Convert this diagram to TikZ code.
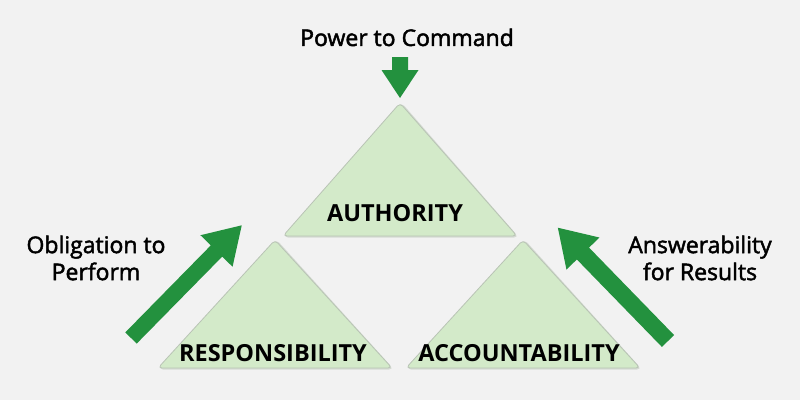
\documentclass[tikz,border=0pt]{standalone}
\usepackage{fontspec}
\setmainfont{Open Sans}
\newfontfamily\semib[FakeBold=2]{Open Sans}
\definecolor{bgc}{HTML}{F2F2F2}
\definecolor{tri}{HTML}{D3EAC9}
\definecolor{arr}{HTML}{23913E}
\definecolor{shd}{HTML}{B9C4B5}
\tikzset{
  tribox/.style={fill=tri, draw=shd, line width=0.8pt, rounded corners=4pt},
  trishadow/.style={fill=shd, opacity=0.5, rounded corners=5pt},
  arrowshape/.style={fill=arr, draw=none},
  trilabel/.style={font=\bfseries\fontsize{23.5}{28}\selectfont, text=black, anchor=base, inner sep=0pt},
  outlabel/.style={font=\semib\fontsize{23}{27}\selectfont, text=black, align=center, inner sep=0pt}
}
\begin{document}
\begin{tikzpicture}[x=1pt,y=1pt]
\fill[bgc] (0,0) rectangle (800,400);
\useasboundingbox (0,0) rectangle (800,400);
% triangles
\foreach \ax/\ay/\bl/\br/\by in {400/297/283/517/164, 275/160/158/392/32, 523/160/406/640/32}{
  \fill[trishadow] (\ax+1,\ay+1) -- (\br+2,\by-1.5) -- (\bl,\by-1.5) -- cycle;
  \draw[tribox] (\ax,\ay) -- (\br,\by) -- (\bl,\by) -- cycle;
}
\node[trilabel] (auth) at (395,179) {AUTHORITY};
\node[trilabel] (resp) at (273,39) {RESPONSIBILITY};
\node[trilabel] (acct) at (519,39) {ACCOUNTABILITY};
% top arrow
\coordinate (ttail) at (400,343);
\begin{scope}[shift={(ttail)}, rotate=-90]
\fill[arrowshape] (0,-8) -- (13,-8) -- (13,-18.5) -- (41,0) -- (13,18.5) -- (13,8) -- (0,8) -- cycle;
\end{scope}
% left arrow
\coordinate (ltail) at (131,62);
\begin{scope}[shift={(ltail)}, rotate=45.5]
\fill[arrowshape] (0,-8) -- (122,-8) -- (122,-22.5) -- (158,0) -- (122,22.5) -- (122,8) -- (0,8) -- cycle;
\end{scope}
% right arrow
\coordinate (rtail) at (668,59);
\begin{scope}[shift={(rtail)}, rotate=134.2]
\fill[arrowshape] (0,-8.5) -- (122,-8.5) -- (122,-23) -- (158,0) -- (122,23) -- (122,8.5) -- (0,8.5) -- cycle;
\end{scope}
% outer labels
\node[outlabel, anchor=base] (pow) at (407,354) {Power to Command};
\node[outlabel] (obl) at (96,142) {Obligation to\\Perform};
\node[outlabel] (ans) at (700,142) {Answerability\\for Results};
\end{tikzpicture}
\end{document}
